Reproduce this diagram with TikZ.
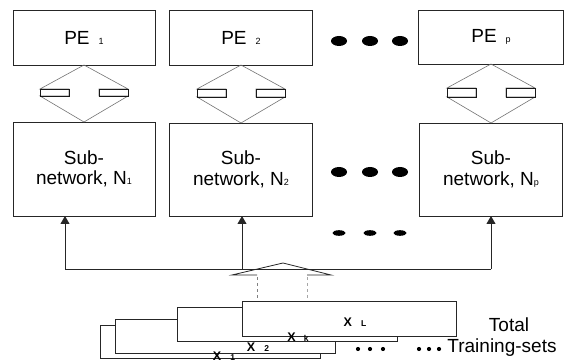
\documentclass[tikz,border=0pt]{standalone}
\usepackage{fontspec}
\setmainfont{Liberation Sans}
\usetikzlibrary{arrows.meta}
\newcommand{\smsub}[1]{{\fontsize{9}{9}\selectfont #1}}
\newcommand{\tinysub}[1]{{\fontsize{8.5}{8.5}\selectfont #1}}
\begin{document}
\begin{tikzpicture}[x=1pt,y=-1pt,
  box/.style={draw=black!85, line width=0.8pt, inner sep=0pt, outer sep=0pt, align=center, font=\fontsize{19}{20.5}\selectfont},
  dbl/.style={draw=black!55, line width=0.6pt},
  bar/.style={draw=black!90, line width=0.9pt},
  bus/.style={draw=black!85, line width=0.8pt},
  tip/.style={-{Triangle[width=9pt,length=8pt]}},
  tset/.style={draw=black!85, line width=0.8pt, fill=white, inner sep=0pt, outer sep=0pt},
  xlab/.style={font=\fontsize{12.5}{12.5}\selectfont\bfseries, inner sep=1pt},
  lbl/.style={font=\fontsize{19}{19}\selectfont, inner sep=0pt}]
\useasboundingbox (0,0) rectangle (576,363);

% PE boxes
\node[box, minimum width=142pt, minimum height=55pt] (pe1) at (84,37.5) {PE\hspace{9pt}\smsub{1}};
\node[box, minimum width=143pt, minimum height=55pt] (pe2) at (241,37.5) {PE\hspace{9pt}\smsub{2}};
\node[box, minimum width=145pt, minimum height=54pt] (pep) at (491,37) {PE\hspace{9pt}\smsub{p}};

% Sub-network boxes
\node[box, minimum width=142pt, minimum height=94pt] (sub1) at (84,169) {Sub-\\network, N\smsub{1}};
\node[box, minimum width=143pt, minimum height=93pt] (sub2) at (241,169.5) {Sub-\\network, N\smsub{2}};
\node[box, minimum width=143pt, minimum height=93pt] (subp) at (491,169.5) {Sub-\\network, N\smsub{p}};

% double block arrows between PE and sub-networks
\foreach \a/\b in {pe1/sub1, pe2/sub2, pep/subp}{
  \draw[dbl] (\a.south) -- ++(44,24) -- ++(-29,0) |- ([shift={(44,-26)}]\b.north)
    -- (\b.north) -- ++(-44,-26) -- ++(29,0) |- ([shift={(-44,24)}]\a.south) -- cycle;
  \draw[bar] ([shift={(15,24)}]\a.south) rectangle ([shift={(44,-26)}]\b.north);
  \draw[bar] ([shift={(-44,24)}]\a.south) rectangle ([shift={(-15,-26)}]\b.north);
}

% ellipsis dots
\foreach \x in {339,370,400}{
  \fill (\x,41) ellipse (8pt and 5pt);
  \fill (\x,172) ellipse (8pt and 5pt);
  \fill (\x,233) ellipse (6.5pt and 2.8pt);
}

% distribution bus
\coordinate (b1) at (65,269);
\coordinate (b2) at (242,269);
\coordinate (bp) at (491,269);
\draw[bus] (b1) -- (bp);
\draw[bus,tip] (b1) -- (b1 |- sub1.south);
\draw[bus,tip] (b2) -- (b2 |- sub2.south);
\draw[bus,tip] (bp) -- (bp |- subp.south);

% training-set stack
\node[tset, minimum width=220pt, minimum height=33pt] (x1) at (210,341.5) {};
\node[tset, minimum width=220pt, minimum height=34pt] (x2) at (225,336) {};
\node[tset, minimum width=220pt, minimum height=34pt] (xk) at (287,324.5) {};
\node[tset, minimum width=214pt, minimum height=35pt] (xl) at (349,318.5) {};
\node[xlab] at (224,356) {X\hspace{9pt}\tinysub{1}};
\node[xlab] at (258,347.5) {X\hspace{9pt}\tinysub{2}};
\node[xlab] at (298,337) {X\hspace{8pt}\tinysub{k}};
\node[xlab] at (355,322.5) {X\hspace{9pt}\tinysub{L}};

% hollow arrow from training sets up to the bus
\coordinate (hl) at (257,298);
\coordinate (hr) at (307,298);
\coordinate (ha) at (283,263);
\draw[bus] (hl |- 0,275) -- (232,275) -- (ha) -- (331,275) -- (hr |- 0,275);
\draw[dashed, black!50, line width=0.6pt] (hl) -- (hl |- 0,275);
\draw[dashed, black!35, line width=0.6pt] (hr) -- (hr |- 0,275);

% small dots
\foreach \x in {358,370,383,419,429,439}{
  \fill (\x,349) circle (2.1pt);
}

\node[lbl] (tot) at (509,325) {Total};
\node[lbl] (trs) at (502,348) {Training-sets};
\end{tikzpicture}
\end{document}
